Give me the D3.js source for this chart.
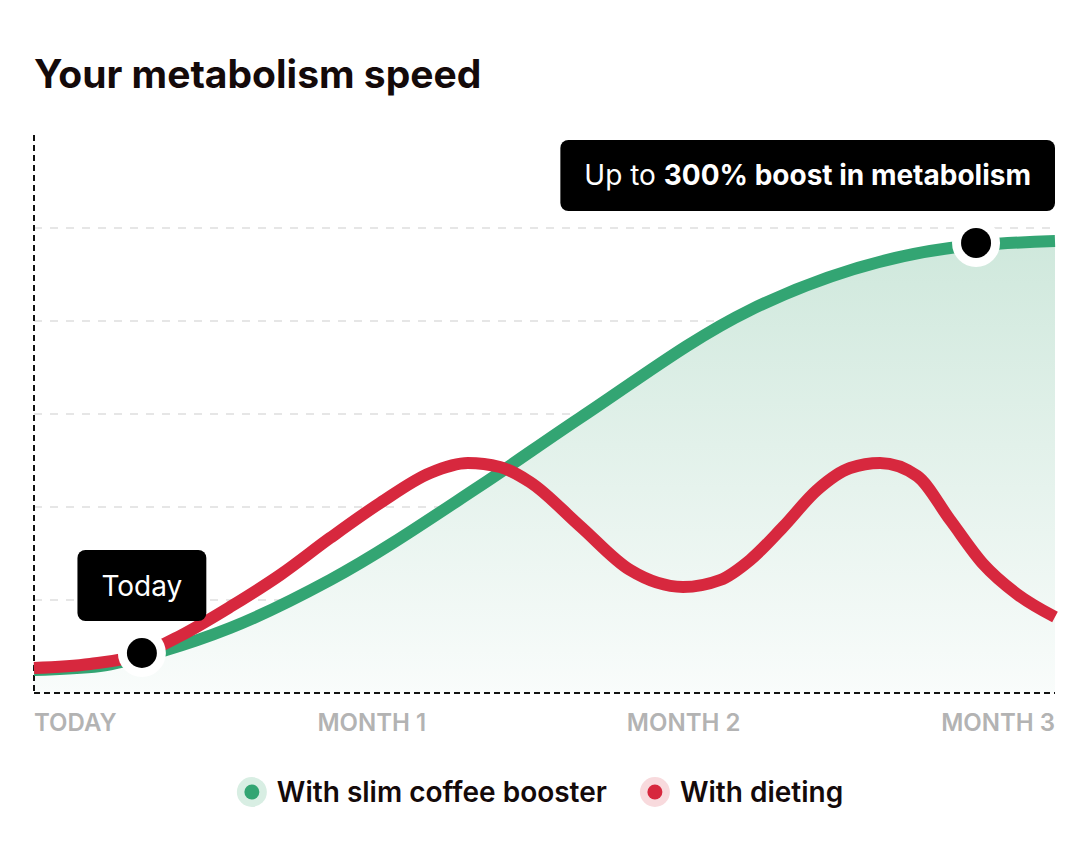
<!DOCTYPE html>
<html><head><meta charset="utf-8">
<script src="https://cdn.jsdelivr.net/npm/d3@7"></script>
<style>body{margin:0;background:#fff} svg{display:block}</style>
</head><body><svg id="c" width="1088" height="844"></svg>
<script>
const chartTitle = "Your metabolism speed";
const tickLabels = ["TODAY", "MONTH 1", "MONTH 2", "MONTH 3"];
const gridValues = [1, 2, 3, 4, 5];
// x in months, y in relative metabolism units
const boosterX = [0, 0.194, 0.379, 0.576, 0.870, 1.310, 1.604, 2.104, 2.692, 3.0];
const boosterY = [0.247, 0.290, 0.452, 0.699, 1.215, 2.226, 2.957, 4.118, 4.785, 4.860];
const dietingX = [0, 0.165, 0.317, 0.429, 0.576, 0.723, 0.870, 1.017, 1.164, 1.275, 1.369, 1.457, 1.604, 1.751, 1.907, 2.016, 2.104, 2.201, 2.301, 2.398, 2.486, 2.595, 2.692, 2.789, 2.888, 3.0];
const dietingY = [0.269, 0.312, 0.419, 0.613, 0.925, 1.269, 1.667, 2.043, 2.366, 2.473, 2.430, 2.269, 1.796, 1.323, 1.140, 1.215, 1.430, 1.785, 2.183, 2.419, 2.473, 2.333, 1.860, 1.387, 1.065, 0.817];
const seriesNames = ["With slim coffee booster", "With dieting"];
const seriesColors = ["#33a573", "#d7283e"];
const seriesHalo = ["#d8eee3", "#f8dadd"];
const markerX = [0.317, 2.768];
const markerY = [0.43, 4.839];
const markerLabelsPlain = ["Today", "Up to "];
const markerLabelsBold = ["", "300% boost in metabolism"];

const svg = d3.select("#c");
const font = "Inter, 'Noto Sans', sans-serif";
const L = 34, R = 1055, T = 135, B = 693;

const x = d3.scaleLinear().domain([0, 3]).range([L, R]);
const y = d3.scaleLinear().domain([0, 6]).range([B, T]);

svg.append("text").attr("x", L).attr("y", 88)
  .attr("font-family", font).attr("font-weight", 700).attr("font-size", 39)
  .attr("fill", "#140a0a").text(chartTitle);

const defs = svg.append("defs");
const grad = defs.append("linearGradient").attr("id", "g")
  .attr("gradientUnits", "userSpaceOnUse").attr("x1", 0).attr("x2", 0).attr("y1", y(4.86)).attr("y2", B);
grad.append("stop").attr("offset", 0).attr("stop-color", "#cfe8dc");
grad.append("stop").attr("offset", 1).attr("stop-color", "#f9fcfb");

// grid
svg.append("g").selectAll("line").data(gridValues).join("line")
  .attr("x1", L).attr("x2", R).attr("y1", d => y(d)).attr("y2", d => y(d))
  .attr("stroke", "#e6e6e6").attr("stroke-width", 2).attr("stroke-dasharray", "8,8");

const booster = boosterX.map((v, i) => [v, boosterY[i]]);
const dieting = dietingX.map((v, i) => [v, dietingY[i]]);
const curve = d3.curveMonotoneX;

svg.append("path").datum(booster)
  .attr("d", d3.area().x(d => x(d[0])).y0(B).y1(d => y(d[1])).curve(curve))
  .attr("fill", "url(#g)");

// axes (dashed)
svg.append("line").attr("x1", L).attr("x2", L).attr("y1", T).attr("y2", B)
  .attr("stroke", "#111").attr("stroke-width", 2).attr("stroke-dasharray", "6,4");
svg.append("line").attr("x1", L).attr("x2", R).attr("y1", B).attr("y2", B)
  .attr("stroke", "#111").attr("stroke-width", 2).attr("stroke-dasharray", "6,4");

const line = d3.line().x(d => x(d[0])).y(d => y(d[1])).curve(curve);
svg.append("path").datum(booster).attr("d", line).attr("fill", "none")
  .attr("stroke", seriesColors[0]).attr("stroke-width", 12);
svg.append("path").datum(dieting).attr("d", line).attr("fill", "none")
  .attr("stroke", seriesColors[1]).attr("stroke-width", 12);

// markers + tooltips
markerX.forEach((mx, i) => {
  const cx = x(mx), cy = y(markerY[i]);
  svg.append("circle").attr("cx", cx).attr("cy", cy).attr("r", 24).attr("fill", "#fff");
  svg.append("circle").attr("cx", cx).attr("cy", cy).attr("r", 15).attr("fill", "#000");
  const g = svg.append("g");
  const rect = g.append("rect").attr("fill", "#000").attr("rx", 8);
  const t = g.append("text").attr("font-family", font).attr("font-size", 28).attr("fill", "#fff");
  t.append("tspan").attr("font-weight", 400).text(markerLabelsPlain[i]);
  if (markerLabelsBold[i]) t.append("tspan").attr("font-weight", 700).text(markerLabelsBold[i]);
  const pad = 24;
  const w = t.node().getComputedTextLength() + pad * 2;
  const h = 71;
  let rx = cx - w / 2;
  if (rx + w > R) rx = R - w;
  const ry = cy - 32 - h;
  rect.attr("x", rx).attr("y", ry).attr("width", w).attr("height", h);
  t.attr("x", rx + pad).attr("y", ry + h / 2 + 10);
});

// x labels, spaced like flex space-between
const lab = svg.append("g").selectAll("text").data(tickLabels).join("text")
  .attr("font-family", font).attr("font-weight", 600).attr("font-size", 24)
  .attr("fill", "#b3b3b3").attr("y", 731).text(d => d);
const widths = lab.nodes().map(n => n.getComputedTextLength());
const gap = (R - L - d3.sum(widths)) / (tickLabels.length - 1);
let cur = L;
lab.each(function(d, i) { d3.select(this).attr("x", cur); cur += widths[i] + gap; });

// legend
const leg = svg.append("g").attr("font-family", font).attr("font-weight", 600).attr("font-size", 28).attr("fill", "#140a0a");
const items = leg.selectAll("g").data(seriesNames).join("g");
items.append("circle").attr("r", 15).attr("fill", (d, i) => seriesHalo[i]);
items.append("circle").attr("r", 7.5).attr("fill", (d, i) => seriesColors[i]);
items.append("text").attr("x", 25).attr("y", 10).text(d => d);
const iw = items.nodes().map(n => n.getBBox().width);
const spacing = 33;
const total = d3.sum(iw) + spacing * (iw.length - 1);
let lx = 540 - total / 2 + 15;
items.each(function(d, i) { d3.select(this).attr("transform", `translate(${lx},792)`); lx += iw[i] + spacing; });
</script></body></html>
